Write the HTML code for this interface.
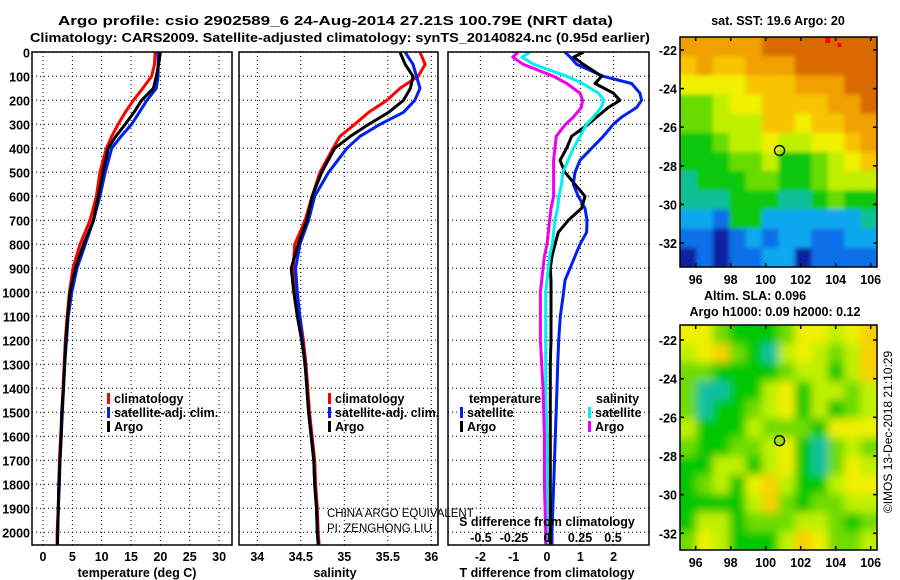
<!DOCTYPE html>
<html><head><meta charset="utf-8">
<style>
html,body{margin:0;padding:0;background:#fff;}
svg{display:block;font-family:"Liberation Sans",sans-serif;}
.b{font-weight:bold;font-size:13px;fill:#000;}
.t{font-weight:bold;font-size:12.5px;fill:#000;}
</style></head>
<body>
<svg id="chart" width="900" height="580" viewBox="0 0 900 580" xmlns="http://www.w3.org/2000/svg">
<defs>
<clipPath id="cp1"><rect x="32" y="52" width="200" height="493"/></clipPath>
<clipPath id="cp2"><rect x="239" y="52" width="199" height="493"/></clipPath>
<clipPath id="cp3"><rect x="448" y="52" width="201" height="493"/></clipPath>
<clipPath id="cpm1"><rect x="680" y="37" width="197" height="230"/></clipPath>
<clipPath id="cpm2"><rect x="680" y="325" width="197" height="225"/></clipPath>
<filter id="blur" x="-5%" y="-5%" width="110%" height="110%"><feGaussianBlur stdDeviation="4.5"/></filter>
<filter id="blurs" x="-5%" y="-5%" width="110%" height="110%"><feGaussianBlur stdDeviation="2"/></filter>
</defs>
<text class="b" x="58" y="25" textLength="555" lengthAdjust="spacingAndGlyphs">Argo profile: csio 2902589_6 24-Aug-2014 27.21S 100.79E (NRT data)</text>
<text class="b" x="30" y="42" textLength="620" lengthAdjust="spacingAndGlyphs">Climatology: CARS2009. Satellite-adjusted climatology: synTS_20140824.nc (0.95d earlier)</text>
<g id="g"></g>
</svg>
<script>
// ---------- data ----------
const depths = [0,50,100,150,200,250,300,350,400,500,600,700,800,900,1000,1100,1200,1300,1400,1500,1600,1700,1800,1900,2000,2050];
const tempClim = [19.1,19.0,18.5,17.0,15.4,14.0,12.8,11.7,10.8,9.7,9.1,8.0,6.3,5.1,4.5,4.1,3.8,3.6,3.4,3.2,3.0,2.8,2.7,2.6,2.4,2.4];
const tempSat  = [19.6,19.6,19.6,19.3,17.7,16.4,15.1,13.3,11.7,10.6,9.7,8.6,7.2,5.8,4.9,4.3,4.0,3.7,3.5,3.3,3.1,2.9,2.8,2.6,2.5,2.45];
const tempArgo = [20.0,19.7,19.3,18.8,16.8,15.5,14.0,12.4,11.1,10.2,9.4,8.6,6.9,5.5,4.6,4.2,3.9,3.7,3.5,3.2,3.1,2.9,2.7,2.6,2.5,2.45];
const salClim = [35.87,35.93,35.85,35.64,35.49,35.28,35.12,34.95,34.87,34.72,34.63,34.55,34.43,34.41,34.43,34.49,34.53,34.56,34.58,34.60,34.63,34.66,34.67,34.69,34.70,34.71];
const salSat  = [35.70,35.79,35.83,35.87,35.81,35.68,35.41,35.18,35.03,34.82,34.66,34.59,34.49,34.44,34.46,34.49,34.52,34.55,34.57,34.59,34.62,34.65,34.66,34.68,34.69,34.70];
const salArgo = [35.64,35.70,35.79,35.76,35.68,35.51,35.28,35.07,34.89,34.74,34.63,34.57,34.47,34.39,34.42,34.46,34.51,34.55,34.57,34.59,34.62,34.65,34.66,34.68,34.69,34.70];
const diffDepths = [0,20,50,100,130,170,200,230,270,300,350,400,450,500,550,600,650,700,750,800,850,900,950,1000,1100,1200,1300,1400,1600,1800,2000,2050];
const tDiffSat  = [0.54,0.7,0.89,1.69,2.54,2.79,2.84,2.69,2.24,1.99,1.69,1.34,0.99,0.84,0.79,0.94,1.14,1.2,1.19,0.99,0.84,0.69,0.54,0.5,0.4,0.35,0.32,0.3,0.25,0.2,0.15,0.15];
const tDiffArgo = [1.09,0.8,1.09,1.64,1.44,1.99,2.19,1.84,1.49,1.24,0.74,0.59,0.39,0.54,0.84,1.14,1.04,0.64,0.34,0.24,0.15,0.1,0.12,0.12,0.12,0.12,0.1,0.1,0.1,0.1,0.1,0.1];
const sDiffSat  = [-0.13,-0.19,-0.10,0.15,0.27,0.39,0.43,0.41,0.35,0.30,0.25,0.20,0.16,0.12,0.11,0.09,0.08,0.06,0.05,0.04,0.02,0.01,0.0,-0.01,-0.01,-0.01,-0.01,-0.01,0,0,0,0];
const sDiffArgo = [-0.22,-0.26,-0.18,0.05,0.15,0.25,0.27,0.26,0.20,0.14,0.07,0.06,0.05,0.05,0.05,0.05,0.03,0.02,0.01,0,-0.02,-0.03,-0.04,-0.05,-0.05,-0.05,-0.04,-0.03,-0.02,-0.02,-0.01,-0.01];
const depthTicks = [0,100,200,300,400,500,600,700,800,900,1000,1100,1200,1300,1400,1500,1600,1700,1800,1900,2000];
const tempTicks = [0,5,10,15,20,25,30];
const salTicks = [34,34.5,35,35.5,36];
const salTickLabels = ["34","34.5","35","35.5","36"];
const tDiffTicks = [-2,-1,0,1,2];
const sDiffTicks = [-0.5,-0.25,0,0.25,0.5];
const sDiffTickLabels = ["-0.5","-0.25","0","0.25","0.5"];
const lonTicks = [96,98,100,102,104,106];
const latTicks = [-22,-24,-26,-28,-30,-32];
const argoLon = 100.79, argoLat = -27.21;
const sstGrid = [
[9,9,9,9,9,10,10,10,10,10,10,10],
[8,9,8,8,9,9,9,10,10,10,10,10],
[7,7,7,7,8,8,8,9,9,9,10,10],
[5,5,6,7,7,8,8,8,8,9,9,10],
[5,5,6,6,6,8,8,7,8,8,9,9],
[4,4,5,6,6,7,6,6,7,7,8,9],
[4,4,4,5,5,6,4,4,5,6,7,8],
[3,4,4,4,5,5,4,4,5,6,6,6],
[3,3,3,4,4,4,3,3,4,5,4,4],
[2,2,1,4,4,2,2,2,2,2,2,3],
[1,1,0,1,2,1,2,2,1,1,2,2],
[0,1,0,1,1,2,2,0,1,1,1,1]];
const slaGrid = [
[4,4,2,1,1,1,2,4,4,3,4,5],
[3,4,5,2,1,0,3,4,3,2,3,5],
[2,2,1,1,1,1,2,3,3,1,3,5],
[2,0,0,1,1,3,4,1,3,3,2,3],
[2,0,1,1,2,3,4,1,3,1,2,3],
[3,1,1,1,3,2,2,2,1,4,4,4],
[2,1,1,2,2,3,4,1,0,2,3,2],
[1,1,3,3,1,3,4,1,0,2,4,3],
[1,2,3,1,4,5,3,1,1,3,4,4],
[1,1,1,1,3,5,2,1,2,2,3,3],
[1,3,3,1,2,2,2,3,3,2,1,2],
[2,4,3,1,1,1,3,5,4,2,2,3]];
const sstColors = ["#0a20a0","#0870e8","#10a8f0","#10c098","#08c808","#68dc00","#c0f000","#f0f000","#f8c400","#f0a000","#d86a00"];
const slaColors = ["#10c0a0","#00c800","#70dc00","#c0f000","#f0f000","#f8d000"];

// ---------- helpers ----------
const NS="http://www.w3.org/2000/svg";
const G=document.getElementById('g');
function mk(tag,attrs,parent){const e=document.createElementNS(NS,tag);for(const k in attrs)e.setAttribute(k,attrs[k]);(parent||G).appendChild(e);return e;}
const yD = d => 52.3 + d*0.24;
const xT = t => 43 + t*5.87;
const xS = s => 257.3 + (s-34)*87;
const xTD = t => 547 + t*33.3;
const xSD = s => 547 + s*132;
const mLon = lon => 695.7 + (lon-96)*17.5;
const mLat1 = lat => 50 + (-22-lat)*19.3;
const mLat2 = lat => 340 + (-22-lat)*19.33;

function panelFrame(x0,x1,name){
  depthTicks.forEach(d=>{
    const l=mk('line',{x1:x0,x2:x1,y1:yD(d),y2:yD(d),stroke:'#000','stroke-width':1,'stroke-dasharray':'1 3'});
    
    
  });
}
function vgrid(xs,name){
  xs.forEach(x=>{
    const l=mk('line',{x1:x,x2:x,y1:52,y2:545,stroke:'#000','stroke-width':1,'stroke-dasharray':'1 3'});
    
    
  });
}
function line(xs,ys,color,clip,name){
  const pts=xs.map((x,i)=>x.toFixed(1)+','+ys[i].toFixed(1)).join(' ');
  const p=mk('polyline',{points:pts,fill:'none',stroke:color,'stroke-width':3,'stroke-linejoin':'round','clip-path':'url(#'+clip+')'});
  
  
}
function txt(x,y,s,cls,anchor,name,extra){
  const t=mk('text',Object.assign({x:x,y:y,class:cls||'t','text-anchor':anchor||'start'},extra||{}));
  t.textContent=s;
  
  
  return t;
}
function box(x,y,w,h,name){
  const r=mk('rect',{x:x,y:y,width:w,height:h,fill:'none',stroke:'#000','stroke-width':1.5});
  
  
}
function legendMark(x,y,color,name){
  const r=mk('rect',{x:x,y:y-10,width:3,height:11,fill:color});
  
  
}

// ---------- panel 1: temperature ----------
panelFrame(32,232,'temp');
vgrid(tempTicks.map(xT),'temp');
line(tempClim.map(xT),depths.map(yD),'#f00','cp1','temp-climatology-line');
line(tempSat.map(xT),depths.map(yD),'#0020f0','cp1','temp-satellite-line');
line(tempArgo.map(xT),depths.map(yD),'#000','cp1','temp-argo-line');
box(32,52,200,493,'temp-plot-frame');
depthTicks.forEach(d=>txt(30,yD(d)+5,String(d),'t','end','depth-tick-label'));
tempTicks.forEach(t=>txt(xT(t),561,String(t),'t','middle','temp-tick-label'));
txt(137,577,'temperature (deg C)','t','middle','temp-axis-title');
legendMark(107,403,'#f00','temp-legend-clim-marker');
txt(114,403,'climatology','t','start','temp-legend-clim');
legendMark(107,417,'#0020f0','temp-legend-sat-marker');
txt(114,417,'satellite-adj. clim.','t','start','temp-legend-sat');
legendMark(107,431,'#000','temp-legend-argo-marker');
txt(114,431,'Argo','t','start','temp-legend-argo');

// ---------- panel 2: salinity ----------
panelFrame(239,438,'sal');
vgrid(salTicks.map(xS),'sal');
line(salClim.map(xS),depths.map(yD),'#f00','cp2','sal-climatology-line');
line(salSat.map(xS),depths.map(yD),'#0020f0','cp2','sal-satellite-line');
line(salArgo.map(xS),depths.map(yD),'#000','cp2','sal-argo-line');
box(239,52,199,493,'sal-plot-frame');
salTicks.forEach((s,i)=>txt(xS(s),561,salTickLabels[i],'t','middle','sal-tick-label'));
txt(335,577,'salinity','t','middle','sal-axis-title');
legendMark(328,403,'#f00','sal-legend-clim-marker');
txt(335,403,'climatology','t','start','sal-legend-clim');
legendMark(328,417,'#0020f0','sal-legend-sat-marker');
txt(335,417,'satellite-adj. clim.','t','start','sal-legend-sat');
legendMark(328,431,'#000','sal-legend-argo-marker');
txt(335,431,'Argo','t','start','sal-legend-argo');
txt(327,517,'CHINA ARGO EQUIVALENT','t','start','data-centre-note',{style:'font-weight:normal;font-size:11.5px'});
txt(327,532,'PI: ZENGHONG LIU','t','start','pi-note',{style:'font-weight:normal;font-size:11.5px'});

// ---------- panel 3: differences ----------
panelFrame(448,649,'diff');
vgrid(tDiffTicks.map(xTD),'diff');
line(tDiffSat.map(xTD),diffDepths.map(yD),'#0020f0','cp3','tdiff-satellite-line');
line(tDiffArgo.map(xTD),diffDepths.map(yD),'#000','cp3','tdiff-argo-line');
line(sDiffSat.map(xSD),diffDepths.map(yD),'#00f0f0','cp3','sdiff-satellite-line');
line(sDiffArgo.map(xSD),diffDepths.map(yD),'#f000f0','cp3','sdiff-argo-line');
box(448,52,201,493,'diff-plot-frame');
tDiffTicks.forEach(t=>txt(xTD(t),561,String(t),'t','middle','tdiff-tick-label'));
txt(547,577,'T difference from climatology','t','middle','tdiff-axis-title');
txt(547,526,'S difference from climatology','t','middle','sdiff-axis-title');
sDiffTicks.forEach((s,i)=>txt(xSD(s),542,sDiffTickLabels[i],'t','middle','sdiff-tick-label'));
txt(469,403,'temperature','t','start','diff-legend-temp-title');
legendMark(460,417,'#0020f0','diff-legend-tsat-marker');
txt(467,417,'satellite','t','start','diff-legend-tsat');
legendMark(460,431,'#000','diff-legend-targo-marker');
txt(467,431,'Argo','t','start','diff-legend-targo');
txt(596,403,'salinity','t','start','diff-legend-sal-title');
legendMark(588,417,'#00f0f0','diff-legend-ssat-marker');
txt(595,417,'satellite','t','start','diff-legend-ssat');
legendMark(588,431,'#f000f0','diff-legend-sargo-marker');
txt(595,431,'Argo','t','start','diff-legend-sargo');

// ---------- maps ----------
function drawMap(grid,colors,x0,y0,w,h,clip,filt,name){
  const g=mk('g',{'clip-path':'url(#'+clip+')'});
  
  
  const inner=mk('g',{filter:'url(#'+filt+')'},g);
  const rows=grid.length, cols=grid[0].length;
  const cw=w/cols, ch=h/rows, pad=20;
  for(let r=0;r<rows;r++)for(let c=0;c<cols;c++){
    let x=x0+c*cw, y=y0+r*ch, ww=cw+0.5, hh=ch+0.5;
    if(c==0){x-=pad;ww+=pad;} if(c==cols-1){ww+=pad;} if(r==0){y-=pad;hh+=pad;} if(r==rows-1){hh+=pad;}
    const cell=mk('rect',{x:x,y:y,width:ww,height:hh,fill:colors[grid[r][c]]},inner);
    
    
  }
}
function mapAxes(y0,y1,latFn,name){
  lonTicks.forEach(l=>{
    const x=mLon(l);
    mk('line',{x1:x,x2:x,y1:y0,y2:y0+4,stroke:'#000','stroke-width':1.5});
    mk('line',{x1:x,x2:x,y1:y1-4,y2:y1,stroke:'#000','stroke-width':1.5});
    txt(x,y1+17,String(l),'t','middle',name+'-lon-label');
  });
  latTicks.forEach(l=>{
    const y=latFn(l);
    mk('line',{x1:680,x2:684,y1:y,y2:y,stroke:'#000','stroke-width':1.5});
    mk('line',{x1:873,x2:877,y1:y,y2:y,stroke:'#000','stroke-width':1.5});
    txt(677,y+5,String(l),'t','end',name+'-lat-label');
  });
}
drawMap(sstGrid,sstColors,680,37,197,230,'cpm1','blurs','sst-map');
const rd1=mk('rect',{x:mLon(103.4),y:38,width:5,height:5,fill:'#f00'});


const rd2=mk('rect',{x:mLon(104.1),y:43,width:4,height:4,fill:'#f00'});


box(680,37,197,230,'sst-map-frame');
mapAxes(37,267,mLat1,'sst-map');
const c1=mk('circle',{cx:mLon(argoLon),cy:mLat1(argoLat),r:5,fill:'none',stroke:'#000','stroke-width':1.3});


txt(778,25,'sat. SST: 19.6 Argo: 20','t','middle','sst-map-title');

drawMap(slaGrid,slaColors,680,325,197,225,'cpm2','blur','sla-map');
box(680,325,197,225,'sla-map-frame');
mapAxes(325,550,mLat2,'sla-map');
const c2=mk('circle',{cx:mLon(argoLon),cy:mLat2(argoLat),r:5,fill:'#a0e000',stroke:'#000','stroke-width':1.3});


txt(755,300,'Altim. SLA: 0.096','t','middle','sla-map-title');
txt(775,316,'Argo h1000: 0.09 h2000: 0.12','t','middle','sla-map-subtitle');
txt(892,432,'©IMOS 13-Dec-2018 21:10:29','t','middle','imos-timestamp',{transform:'rotate(-90 892 432)',style:'font-weight:normal;font-size:12px'});
</script>
</body></html>
